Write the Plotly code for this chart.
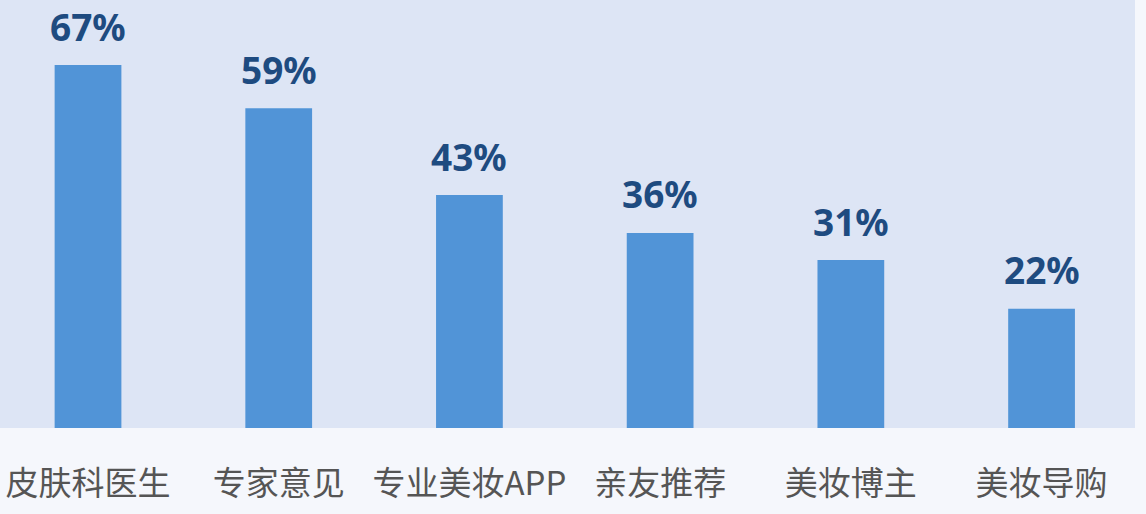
import plotly.graph_objects as go

categories = ["皮肤科医生", "专家意见", "专业美妆APP", "亲友推荐", "美妆博主", "美妆导购"]
values = [67, 59, 43, 36, 31, 22]
labels = ["67%", "59%", "43%", "36%", "31%", "22%"]

fig = go.Figure()
fig.add_trace(go.Bar(
    x=categories,
    y=values,
    width=0.35,
    marker=dict(color="#5194d7", line=dict(width=0)),
    hoverinfo="skip",
))

# percentage labels sit a fair way above each bar
for c, v, t in zip(categories, values, labels):
    fig.add_annotation(
        x=c, y=v, text=t, showarrow=False,
        yanchor="middle", yshift=39,
        font=dict(family="Noto Sans", size=37, color="#1e4b80", weight="bold"),
    )

fig.update_layout(
    width=1146, height=514,
    margin=dict(l=0, r=11, t=0, b=86),
    paper_bgcolor="#f5f7fc",
    plot_bgcolor="#dde5f5",
    showlegend=False,
)
fig.update_xaxes(
    range=[-0.4615, 5.49],
    showgrid=False, zeroline=False, showline=False,
    ticks="", ticklabelstandoff=33,
    tickfont=dict(family="Noto Sans CJK SC", size=33, color="#555555"),
)
fig.update_yaxes(
    range=[0, 79],
    showgrid=False, zeroline=False, showline=False,
    showticklabels=False,
)

# drop the default page margin so the figure sits flush in the window
fig.write_html("out.html", config={"displayModeBar": False},
               post_script="document.body.style.margin='0';")
